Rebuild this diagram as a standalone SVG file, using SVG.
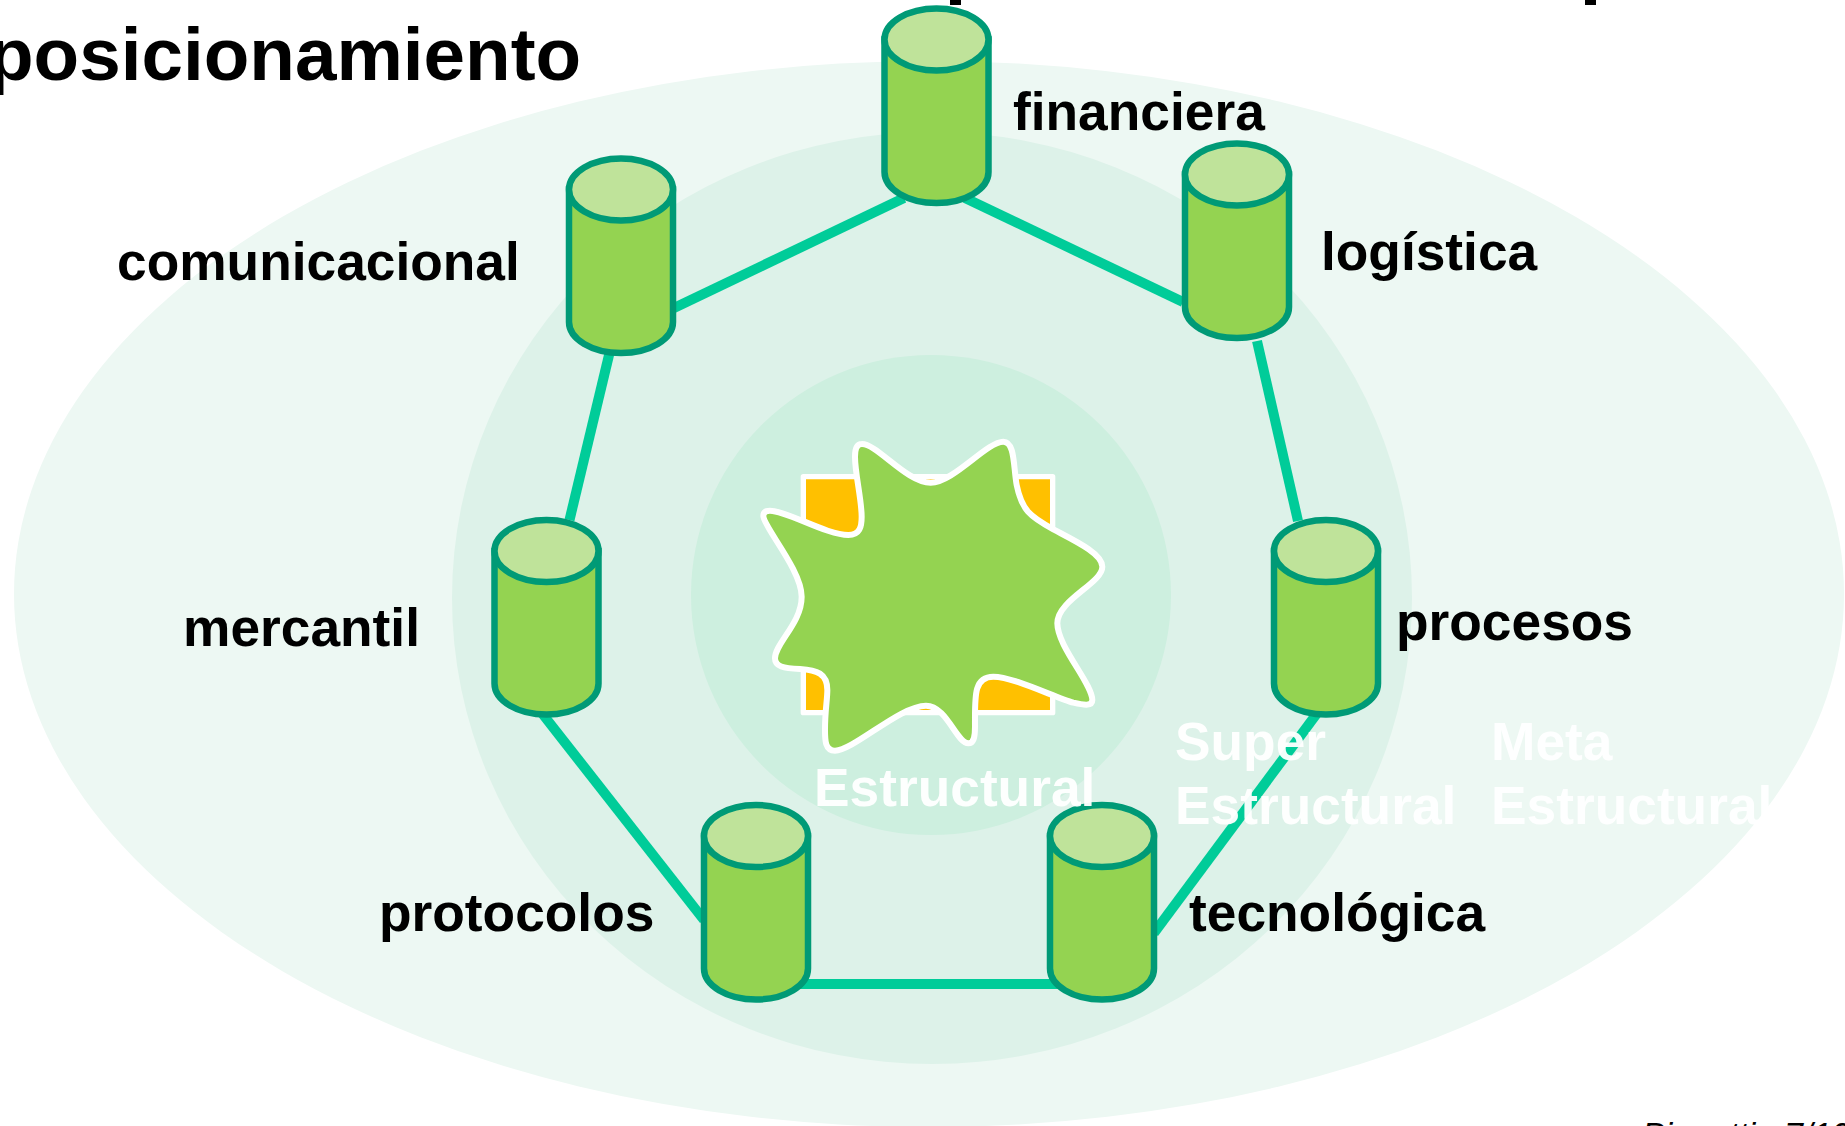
<svg xmlns="http://www.w3.org/2000/svg" width="1845" height="1126" viewBox="0 0 1845 1126">
<style>
.lbl{font-family:"Liberation Sans",Arial,sans-serif;font-weight:700;font-size:53.3px;fill:#000}
.wt{font-family:"Liberation Sans",Arial,sans-serif;font-weight:700;font-size:53.3px;fill:#fff;fill-opacity:.95}
.foot{font-family:"Liberation Sans",Arial,sans-serif;font-style:italic;font-size:34px;fill:#000}
.body{fill:#94D351;stroke:#009A76;stroke-width:6.5}
.cap{fill:#BFE39A;stroke:#009A76;stroke-width:6.5}
.conn{stroke:#00CC99;stroke-width:10;fill:none}
</style>
<defs>
<g id="cyl">
<path class="body" d="M-52 0V132.500A52 31 0 0 0 52 132.500V0Z"/>
<ellipse class="cap" cx="0" cy="0" rx="52" ry="31"/>
</g>
</defs>
<rect width="1845" height="1126" fill="#fff"/>
<g id="rings">
<ellipse cx="929" cy="594" rx="915" ry="533" fill="#EDF8F3"/>
<ellipse cx="932" cy="598" rx="480" ry="466" fill="#DDF2E9"/>
<circle cx="931" cy="595" r="240" fill="#CDEFDF"/>
</g>
<g id="connectors">
<line class="conn" x1="965" y1="198" x2="1183" y2="302"/>
<line class="conn" x1="904" y1="198" x2="674" y2="308"/>
<line class="conn" x1="609.500" y1="353" x2="569.500" y2="520"/>
<line class="conn" x1="1257" y1="341" x2="1298" y2="521"/>
<line class="conn" x1="1318" y1="712" x2="1154" y2="933"/>
<line class="conn" x1="541" y1="712" x2="704" y2="920"/>
<line class="conn" x1="800" y1="984" x2="1060" y2="984"/>
</g>
<g id="core" transform="translate(720 410) scale(.33333)">
<rect x="250" y="200" width="748" height="708" fill="#FFC000" stroke="#fff" stroke-width="16" stroke-linejoin="round"/>
<path fill="#94D351" stroke="#fff" stroke-width="18" d="M425 102C470 100 560 218 632 218C700 218 800 95 850 95C885 95 880 170 890 225C905 300 930 320 1000 358C1060 390 1147 430 1147 470C1147 520 1012 570 1012 640C1012 710 1117 820 1117 870C1117 890 1090 885 1060 878C1010 865 880 800 820 800C760 800 765 860 765 950C765 985 760 1000 745 1000C710 1000 680 887 618 887C540 887 400 1022 345 1022C315 1022 315 990 315 960C315 900 322 870 322 840C322 790 290 780 240 777C190 775 165 770 165 745C165 700 245 640 245 560C245 480 130 350 130 318C130 305 140 302 150 302C200 302 320 375 385 375C420 375 425 350 425 320C425 270 405 190 405 140C405 115 410 102 425 102Z"/>
</g>
<g id="n-financiera"><use href="#cyl" x="936.500" y="39.500"/><text class="lbl" x="1013" y="130">financiera</text></g>
<g id="n-logistica"><use href="#cyl" x="1237" y="174.500"/><text class="lbl" x="1321" y="270">logística</text></g>
<g id="n-comunicacional"><use href="#cyl" x="621" y="189.500"/><text class="lbl" x="117" y="280">comunicacional</text></g>
<g id="n-mercantil"><use href="#cyl" x="546.500" y="551"/><text class="lbl" x="183" y="646">mercantil</text></g>
<g id="n-procesos"><use href="#cyl" x="1326" y="551"/><text class="lbl" x="1396" y="640">procesos</text></g>
<g id="n-protocolos"><use href="#cyl" x="756" y="836"/><text class="lbl" x="379" y="931">protocolos</text></g>
<g id="n-tecnologica"><use href="#cyl" x="1102" y="836"/><text class="lbl" x="1189" y="931">tecnológica</text></g>
<g id="ring-labels">
<text class="wt" x="814" y="806">Estructural</text>
<text class="wt" x="1175" y="760">Super</text>
<text class="wt" x="1175" y="824">Estructural</text>
<text class="wt" x="1491" y="760">Meta</text>
<text class="wt" x="1491" y="824">Estructural</text>
</g>
<g id="title">
<text font-family="'Liberation Sans',Arial,sans-serif" font-weight="700" font-size="74.670" x="-12" y="80">posicionamiento</text>
<rect x="950" y="0" width="11" height="5"/>
<rect x="1585" y="0" width="11" height="5"/>
</g>
<g id="footer">
<text class="foot" x="1642" y="1146">Pignatti</text>
<text class="foot" x="1784" y="1146">7/12</text>
</g>
</svg>
